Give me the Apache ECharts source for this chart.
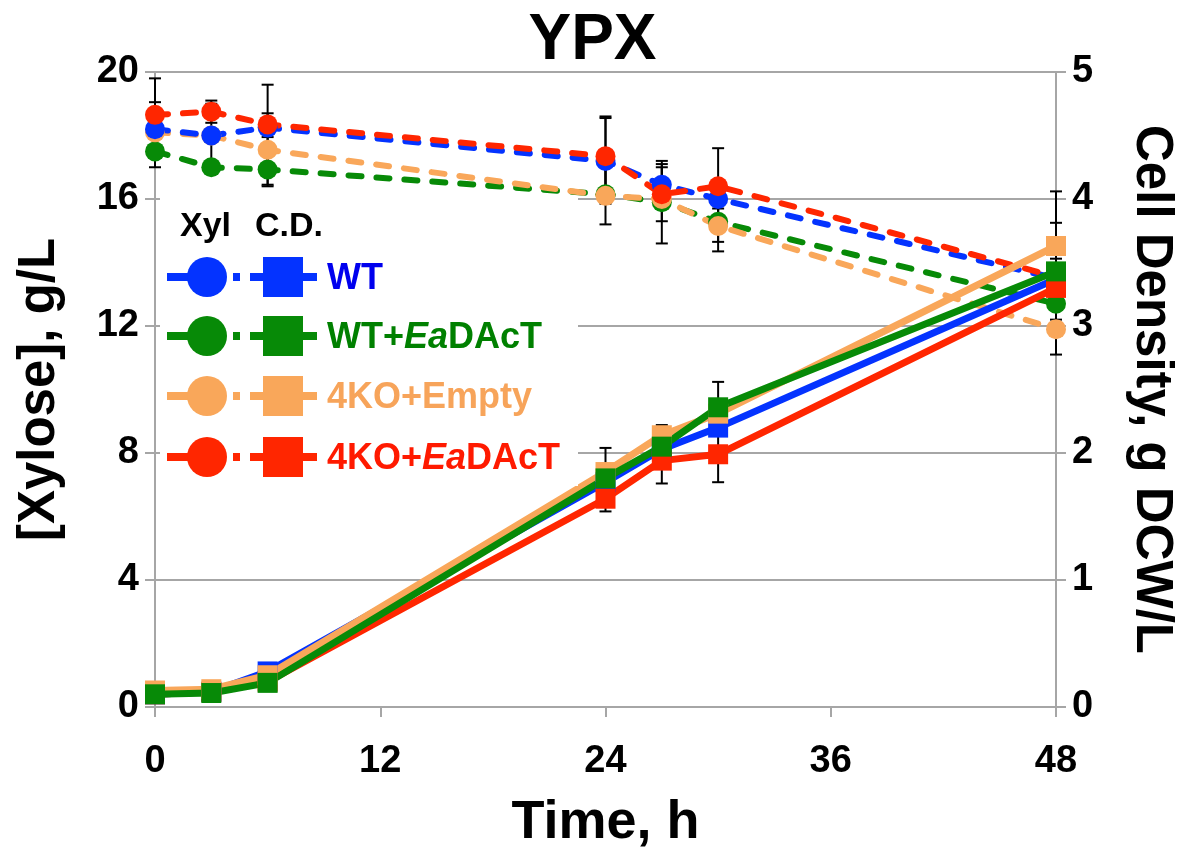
<!DOCTYPE html>
<html>
<head>
<meta charset="utf-8">
<script src="https://cdn.jsdelivr.net/npm/echarts@6/dist/echarts.min.js"></script>
<style>
  html, body { margin: 0; padding: 0; background: #fff; }
  #chart { width: 1185px; height: 855px; }
</style>
</head>
<body>
<div id="chart"></div>
<script>
// sampling times, h
const hours = [0, 3, 6, 24, 27, 30, 48]
const xTicks = [0, 12, 24, 36, 48]

// xylose, g/L (left axis)
const xylWT = [18.2, 18.0, 18.25, 17.2, 16.45, 16.0, 13.5]
const xylWTEa = [17.5, 17.0, 16.93, 16.15, 15.9, 15.28, 12.7]
const xylEmpty = [18.1, 18.0, 17.55, 16.1, 16.0, 15.15, 11.9]
const xylKOEa = [18.65, 18.75, 18.35, 17.35, 16.15, 16.4, 13.55]

// xylose error (+/-)
const xylWTErr = [0.85, 0.2, 0.3, 1.35, 0.65, 0.3, 1.75]
const xylWTEaErr = [0.5, 0.2, 0.48, 0.95, 1.3, 0.63, 0.5]
const xylEmptyErr = [0.2, 1.0, 1.15, 0.2, 0.2, 0.8, 0.8]
const xylKOEaErr = [1.15, 0.35, 1.25, 1.25, 0.85, 1.2, 0.4]

// cell density, g DCW/L (right axis)
const cdWT = [0.1, 0.12, 0.28, 1.77, 2.03, 2.2, 3.37]
const cdWTEa = [0.1, 0.11, 0.19, 1.8, 2.05, 2.36, 3.43]
const cdEmpty = [0.13, 0.14, 0.25, 1.85, 2.14, 2.31, 3.63]
const cdKOEa = [0.1, 0.12, 0.2, 1.64, 1.94, 1.99, 3.3]

// cell density error (+/-)
const cdWTErr = [0.02, 0.02, 0.03, 0.05, 0.05, 0.05, 0.1]
const cdWTEaErr = [0.02, 0.02, 0.03, 0.05, 0.05, 0.2, 0.1]
const cdEmptyErr = [0.02, 0.02, 0.03, 0.19, 0.08, 0.05, 0.43]
const cdKOEaErr = [0.02, 0.02, 0.03, 0.1, 0.18, 0.22, 0.35]

const strains = ['WT', 'WT+EaDAcT', '4KO+Empty', '4KO+EaDAcT']
const colors = ['#0433ff', '#078a07', '#f9a75a', '#ff2600']
const textColors = ['#0000ee', '#008000', '#f7a45a', '#ff1a00']

const FONT = 'Liberation Sans'

const pairs = (vals) => hours.map((h, i) => [h, vals[i]])
const errRows = (vals, err) => hours.map((h, i) => [h, vals[i] - err[i], vals[i] + err[i]])

function renderErr (params, api) {
  const x = api.value(0)
  const lo = api.coord([x, api.value(1)])
  const hi = api.coord([x, api.value(2)])
  const cap = 6
  const st = { stroke: '#000', lineWidth: 2 }
  return {
    type: 'group',
    children: [
      { type: 'line', shape: { x1: hi[0], y1: hi[1], x2: lo[0], y2: lo[1] }, style: st },
      { type: 'line', shape: { x1: hi[0] - cap, y1: hi[1], x2: hi[0] + cap, y2: hi[1] }, style: st },
      { type: 'line', shape: { x1: lo[0] - cap, y1: lo[1], x2: lo[0] + cap, y2: lo[1] }, style: st }
    ]
  }
}

const errSeries = (vals, err, axis) => ({
  type: 'custom',
  yAxisIndex: axis,
  renderItem: renderErr,
  data: errRows(vals, err),
  z: 1,
  silent: true
})

const xylSeries = (vals, idx) => ({
  name: strains[idx] + ' Xyl',
  type: 'line',
  yAxisIndex: 0,
  data: pairs(vals),
  symbol: 'circle',
  symbolSize: 20,
  itemStyle: { color: colors[idx] },
  lineStyle: { color: colors[idx], width: 6, type: [13, 15], cap: 'round' },
  z: 3
})

const cdSeries = (vals, idx) => ({
  name: strains[idx] + ' C.D.',
  type: 'line',
  yAxisIndex: 1,
  data: pairs(vals),
  symbol: 'rect',
  symbolSize: 20,
  itemStyle: { color: colors[idx] },
  lineStyle: { color: colors[idx], width: 7 },
  z: 4
})

// legend drawn as graphics (two markers per row)
function legendGraphics () {
  const els = [
    { type: 'rect', shape: { x: 160, y: 197, width: 418, height: 289 }, style: { fill: '#fff' }, z: 5 },
    { type: 'text', x: 180, y: 210, style: { text: 'Xyl', font: `bold 34px "${FONT}"`, fill: '#000' }, z: 6 },
    { type: 'text', x: 255, y: 210, style: { text: 'C.D.', font: `bold 34px "${FONT}"`, fill: '#000' }, z: 6 }
  ]
  const rowY = [277, 336, 396, 457]
  const labels = [
    '{n|WT}',
    '{n|WT+}{i|Ea}{n|DAcT}',
    '{n|4KO+Empty}',
    '{n|4KO+}{i|Ea}{n|DAcT}'
  ]
  rowY.forEach((y, k) => {
    const c = colors[k]
    els.push(
      { type: 'line', shape: { x1: 167, y1: y, x2: 225, y2: y }, style: { stroke: c, lineWidth: 8 }, z: 6 },
      { type: 'circle', shape: { cx: 207, cy: y, r: 20 }, style: { fill: c }, z: 6 },
      { type: 'rect', shape: { x: 233, y: y - 4, width: 7, height: 8 }, style: { fill: c }, z: 6 },
      { type: 'line', shape: { x1: 250, y1: y, x2: 317, y2: y }, style: { stroke: c, lineWidth: 8 }, z: 6 },
      { type: 'rect', shape: { x: 263, y: y - 20, width: 40, height: 40 }, style: { fill: c }, z: 6 },
      {
        type: 'text', x: 327, y: y + 2,
        style: {
          text: labels[k],
          verticalAlign: 'middle',
          rich: {
            n: { font: `bold 36px "${FONT}"`, fill: textColors[k] },
            i: { font: `italic bold 36px "${FONT}"`, fill: textColors[k] }
          }
        },
        z: 6
      }
    )
  })
  return els
}

const axisLabelStyle = { color: '#000', fontFamily: FONT, fontWeight: 'bold', fontSize: 38 }
const axisLine = { show: true, lineStyle: { color: '#a6a6a6', width: 2 } }
const axisTick = { show: true, length: 10, lineStyle: { color: '#a6a6a6', width: 2 } }
const nameStyle = (size) => ({ fontFamily: FONT, fontWeight: 'bold', fontSize: size, color: '#000' })

const chart = echarts.init(document.getElementById('chart'))
chart.setOption({
  backgroundColor: '#fff',
  animation: false,
  title: {
    text: 'YPX',
    left: 'center',
    top: 4,
    textStyle: nameStyle(64)
  },
  grid: { left: 155, right: 125, top: 72, bottom: 143 },
  xAxis: {
    type: 'value',
    min: xTicks[0],
    max: xTicks[xTicks.length - 1],
    interval: xTicks[1] - xTicks[0],
    name: 'Time, h',
    nameLocation: 'middle',
    nameGap: 89,
    nameTextStyle: nameStyle(54),
    axisLine: axisLine,
    axisTick: axisTick,
    axisLabel: Object.assign({ margin: 36 }, axisLabelStyle),
    splitLine: { show: false }
  },
  yAxis: [
    {
      type: 'value',
      min: 0,
      max: 20,
      interval: 4,
      name: '[Xylose], g/L',
      nameLocation: 'middle',
      nameGap: 90,
      nameTextStyle: nameStyle(51),
      axisLine: axisLine,
      axisTick: axisTick,
      axisLabel: Object.assign({ margin: 16 }, axisLabelStyle),
      splitLine: { show: true, lineStyle: { color: '#a6a6a6', width: 2 } }
    },
    {
      type: 'value',
      position: 'right',
      min: 0,
      max: 5,
      interval: 1,
      name: 'Cell Density, g DCW/L',
      nameLocation: 'middle',
      nameRotate: -90,
      nameGap: 70,
      nameTextStyle: nameStyle(51),
      axisLine: axisLine,
      axisTick: axisTick,
      axisLabel: Object.assign({ margin: 16 }, axisLabelStyle),
      splitLine: { show: false }
    }
  ],
  graphic: legendGraphics(),
  series: [
    errSeries(xylWT, xylWTErr, 0),
    errSeries(xylWTEa, xylWTEaErr, 0),
    errSeries(xylEmpty, xylEmptyErr, 0),
    errSeries(xylKOEa, xylKOEaErr, 0),
    errSeries(cdWT, cdWTErr, 1),
    errSeries(cdWTEa, cdWTEaErr, 1),
    errSeries(cdEmpty, cdEmptyErr, 1),
    errSeries(cdKOEa, cdKOEaErr, 1),
    xylSeries(xylWTEa, 1),
    xylSeries(xylEmpty, 2),
    xylSeries(xylWT, 0),
    xylSeries(xylKOEa, 3),
    cdSeries(cdWT, 0),
    cdSeries(cdKOEa, 3),
    cdSeries(cdEmpty, 2),
    cdSeries(cdWTEa, 1)
  ]
})
</script>
</body>
</html>
